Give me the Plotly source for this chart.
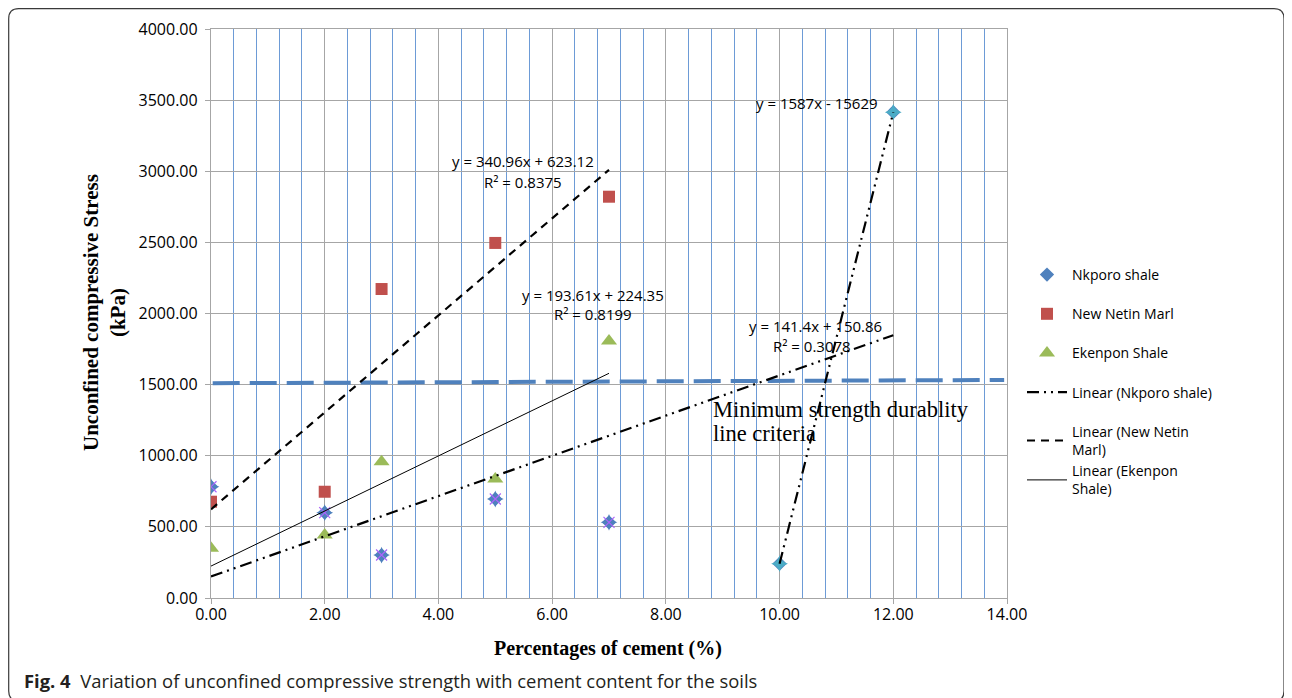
import plotly.graph_objects as go

# ---- data ----
cement_nkporo = [0, 2, 3, 5, 7, 10, 12]
ucs_nkporo = [782, 600, 302, 696, 532, 241, 3415]

cement_netin = [0, 2, 3, 5, 7]
ucs_netin = [677, 747, 2172, 2496, 2821]

cement_ekenpon = [0, 2, 3, 5, 7]
ucs_ekenpon = [349, 443, 958, 836, 1807]

# trendline end points (from the printed equations)
trend_nkporo_x = [0, 12]
trend_nkporo_y = [150.86, 1847.66]
trend_nkporo2_x = [10, 12]
trend_nkporo2_y = [241, 3415]
trend_netin_x = [0, 7]
trend_netin_y = [623.12, 3009.84]
trend_ekenpon_x = [0, 7]
trend_ekenpon_y = [224.35, 1579.62]

criteria_x = [0.03, 13.95]
criteria_y = [1510, 1533]

BLUE = "#4F81BD"
RED = "#C0504D"
GREEN = "#9BBB59"
PURPLE = "#8064A2"
LBLUE = "#4BACC6"
SANS = "Open Sans"
SERIF = "Liberation Serif"

OFF = 8  # page body margin
W, H = 1284, 690
L, R, T, B = 203, 285, 21, 100
PW, PH = W - L - R, H - T - B


def px(x):
    return (x - OFF - L) / PW


def py(y):
    return (H - B - (y - OFF)) / PH


fig = go.Figure()

# criteria line (behind)
fig.add_trace(go.Scatter(x=criteria_x, y=criteria_y, mode="lines", showlegend=False,
                         line=dict(color=BLUE, width=4, dash="27px,10px"), hoverinfo="skip"))

# data markers
fig.add_trace(go.Scatter(x=cement_nkporo, y=ucs_nkporo, mode="markers", name="Nkporo shale",
                         legendgroup="a",
                         marker=dict(symbol="diamond", size=11, color=BLUE)))
fig.add_trace(go.Scatter(x=cement_nkporo, y=ucs_nkporo, mode="markers", showlegend=False,
                         marker=dict(symbol="star-diamond", size=12,
                                     color=[BLUE] * 5 + [LBLUE] * 2), hoverinfo="skip"))
fig.add_trace(go.Scatter(x=cement_nkporo[:5], y=ucs_nkporo[:5], mode="markers", showlegend=False,
                         marker=dict(symbol="x-thin-open", size=11,
                                     line=dict(color=PURPLE, width=1.2)), hoverinfo="skip"))
fig.add_trace(go.Scatter(x=cement_netin, y=ucs_netin, mode="markers", name="New Netin Marl",
                         legendgroup="b",
                         marker=dict(symbol="square", size=12, color=RED)))
fig.add_trace(go.Scatter(x=cement_ekenpon, y=ucs_ekenpon, mode="markers", name="Ekenpon Shale",
                         legendgroup="c",
                         marker=dict(symbol="triangle-up", size=14, color=GREEN)))

# trendlines
ddd = "12px,5px,2px,5px,2px,5px"
fig.add_trace(go.Scatter(x=trend_nkporo_x, y=trend_nkporo_y, mode="lines",
                         name="Linear (Nkporo shale)", legendgroup="d",
                         line=dict(color="black", width=2.2, dash=ddd)))
fig.add_trace(go.Scatter(x=trend_nkporo2_x, y=trend_nkporo2_y, mode="lines", showlegend=False,
                         legendgroup="d",
                         line=dict(color="black", width=2.2, dash=ddd)))
fig.add_trace(go.Scatter(x=trend_netin_x, y=trend_netin_y, mode="lines",
                         name="Linear (New Netin<br>Marl)", legendgroup="e",
                         line=dict(color="black", width=2.2, dash="8px,6px")))
fig.add_trace(go.Scatter(x=trend_ekenpon_x, y=trend_ekenpon_y, mode="lines",
                         name="Linear (Ekenpon<br>Shale)", legendgroup="e",
                         line=dict(color="black", width=1)))

ann = []


def text_at(x, y, s, size=15, font=SANS, xanchor="center", color="#000"):
    ann.append(dict(xref="paper", yref="paper", x=px(x), y=py(y), text=s, showarrow=False,
                    xanchor=xanchor, yanchor="middle",
                    font=dict(family=font, size=size, color=color)))


text_at(523, 161, "y = 340.96x + 623.12")
text_at(523, 182, "R² = 0.8375")
text_at(817, 103, "y = 1587x - 15629")
text_at(593, 295, "y = 193.61x + 224.35")
text_at(593, 314, "R² = 0.8199")
text_at(815, 326, "y = 141.4x + 150.86")
text_at(812, 346, "R² = 0.3078")
text_at(711, 409, "Minimum strength durablity", size=22.5, font=SERIF, xanchor="left")
text_at(711, 433, "line criteria", size=22.5, font=SERIF, xanchor="left")

# axis titles
text_at(608, 648, "<b>Percentages of cement (%)</b>", size=20, font=SERIF)
ann.append(dict(xref="paper", yref="paper", x=px(104), y=py(313), showarrow=False,
                text="<b>Unconfined compressive Stress<br>(kPa)</b>", textangle=-90,
                xanchor="center", yanchor="middle",
                font=dict(family=SERIF, size=21, color="#000")))

# caption
text_at(22, 680, "<b>Fig. 4</b>  Variation of unconfined compressive strength with cement content for the soils",
        size=18.4, font=SANS, xanchor="left", color="#231f20")

# rounded frame
x0, y0, x1, y1, r = 8.7, 8.7, 1284, 701, 10
path = (f"M {px(x0)},{py(y0 + r)} Q {px(x0)},{py(y0)} {px(x0 + r)},{py(y0)} "
        f"L {px(x1 - r)},{py(y0)} Q {px(x1)},{py(y0)} {px(x1)},{py(y0 + r)} "
        f"L {px(x1)},{py(y1 - r)} Q {px(x1)},{py(y1)} {px(x1 - r)},{py(y1)} "
        f"L {px(x0 + r)},{py(y1)} Q {px(x0)},{py(y1)} {px(x0)},{py(y1 - r)} Z")
shapes = [dict(type="path", xref="paper", yref="paper", path=path,
               line=dict(color="#3a3a3a", width=1.2))]

fig.update_layout(
    width=W, height=H,
    margin=dict(l=L, r=R, t=T, b=B, autoexpand=False),
    paper_bgcolor="white", plot_bgcolor="white",
    annotations=ann, shapes=shapes,
    showlegend=True,
    legend=dict(x=px(1022), y=py(259), xanchor="left", yanchor="top",
                font=dict(family=SANS, size=14, color="#000"),
                tracegroupgap=18, bgcolor="rgba(0,0,0,0)", itemwidth=40,
                traceorder="grouped"),
    xaxis=dict(range=[0, 14], dtick=2, tick0=0, tickformat=".2f",
               showgrid=True, gridcolor="#A6A6A6", gridwidth=1.3,
               minor=dict(dtick=0.4, tick0=0, showgrid=True, gridcolor="#6D9BD6", gridwidth=1.3,
                          ticks=""),
               showline=True, linecolor="#A6A6A6", linewidth=1.3, mirror=True,
               ticks="outside", ticklen=5, tickcolor="#A6A6A6", ticklabelstandoff=-3,
               tickfont=dict(family=SANS, size=16, color="#000"), zeroline=False),
    yaxis=dict(range=[0, 4000], dtick=500, tick0=0, tickformat=".2f",
               showgrid=True, gridcolor="#A6A6A6", gridwidth=1.3,
               showline=True, linecolor="#A6A6A6", linewidth=1.3, mirror=True,
               ticks="outside", ticklen=5, tickcolor="#A6A6A6", ticklabelstandoff=4,
               tickfont=dict(family=SANS, size=16, color="#000"), zeroline=False),
)

fig.write_html("out.html")
